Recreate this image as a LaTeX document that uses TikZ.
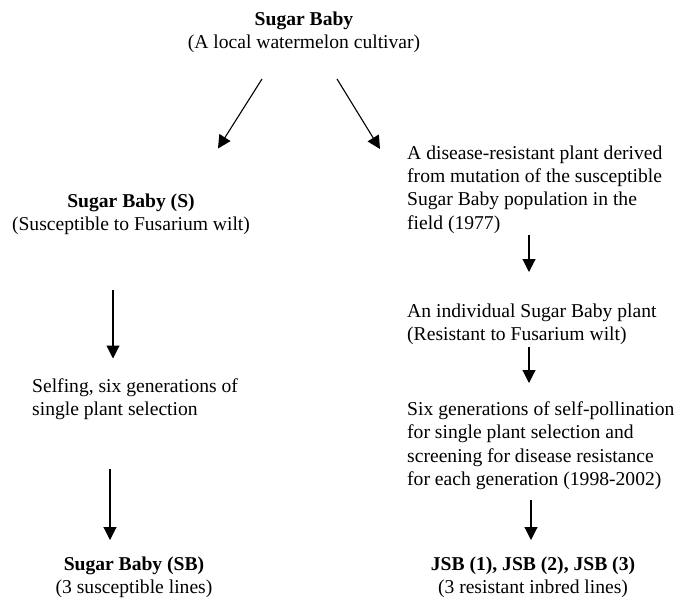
\documentclass[tikz,border=0pt]{standalone}
\usepackage{fontspec}
\setmainfont{Liberation Serif}
\usetikzlibrary{positioning,arrows.meta}

\begin{document}
\begin{tikzpicture}[x=1pt, y=-1pt,
        blk/.style = {inner sep=0pt, font=\fontsize{19.6}{23.3}\selectfont},
        arr/.style = {line width=1.1pt, -{Triangle[width=13pt, length=13pt]}}]
        \useasboundingbox (0,0) rectangle (680,604);

        \node[blk, align=center, anchor=north]		(root)	at (304,11.5)	{\textbf{Sugar Baby}\\(A local watermelon cultivar)};
        \node[blk, align=center, anchor=north]		(sus)	at (131,193.5)	{\textbf{Sugar Baby (S)}\\(Susceptible to Fusarium wilt)};
        \node[blk, align=left, anchor=north west]	(mut)	at (407,145.5)	{A disease-resistant plant derived\\from mutation of the susceptible\\Sugar Baby population in the\\field (1977)};
        \node[blk, align=left, anchor=north west]	(self)	at (32,378.5)	{Selfing, six generations of\\single plant selection};
        \node[blk, align=left, anchor=north west]	(res)	at (407,303.5)	{An individual Sugar Baby plant\\(Resistant to Fusarium wilt)};
        \node[blk, align=left, anchor=north west]	(scr)	at (407,401.5)	{Six generations of self-pollination\\for single plant selection and\\screening for disease resistance\\for each generation (1998-2002)};
        \node[blk, align=center, anchor=north]		(sb)	at (134,556.5)	{\textbf{Sugar Baby (SB)}\\(3 susceptible lines)};
        \node[blk, align=center, anchor=north]		(jsb)	at (533,556.5)	{\textbf{JSB (1), JSB (2), JSB (3)}\\(3 resistant inbred lines)};

        \draw[arr] ([xshift=-42pt, yshift=-26pt]root.south) -- ([xshift=87pt, yshift=45pt]sus.north);
        \draw[arr] ([xshift=33pt, yshift=-26pt]root.south) -- ([xshift=-27pt, yshift=-3.5pt]mut.north west);
        \draw[arr] ([xshift=-18pt, yshift=-55pt]sus.south) -- ([xshift=81pt, yshift=20pt]self.north west);
        \draw[arr] ([xshift=78pt, yshift=-49pt]self.south west) -- ([xshift=-24pt, yshift=16.5pt]sb.north);
        \draw[arr] ([xshift=122pt, yshift=-1pt]mut.south west) -- ([xshift=122pt, yshift=31.5pt]res.north west);
        \draw[arr] ([xshift=122pt, yshift=-2pt]res.south west) -- ([xshift=122pt, yshift=18.5pt]scr.north west);
        \draw[arr] ([xshift=124pt, yshift=-10pt]scr.south west) -- ([xshift=-2pt, yshift=16.5pt]jsb.north);
\end{tikzpicture}
\end{document}
